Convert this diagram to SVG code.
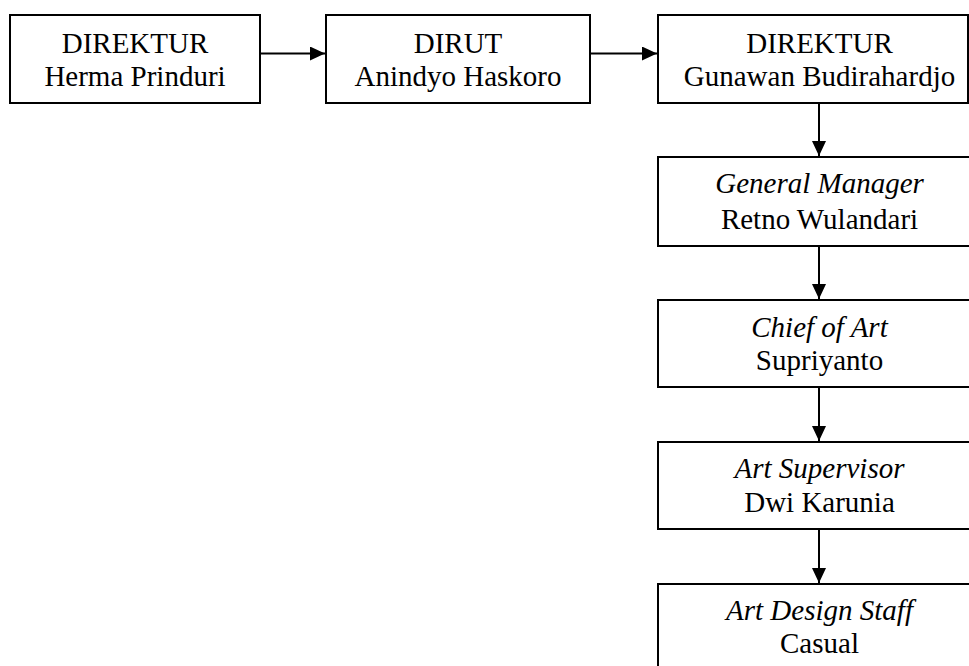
<svg xmlns="http://www.w3.org/2000/svg" width="969" height="666" viewBox="0 0 969 666">
<style>
.box{fill:#fff;stroke:#000;stroke-width:2}
.t{font-family:"Liberation Serif","Times New Roman",serif;font-size:29px;fill:#000;text-anchor:middle}
.i{font-style:italic}
.c{stroke:#000;stroke-width:2;fill:none;marker-end:url(#ah)}
</style>
<defs>
<marker id="ah" viewBox="0 0 15 14" refX="15" refY="7" markerWidth="15" markerHeight="14" markerUnits="userSpaceOnUse" orient="auto">
<path d="M0,0 L15,7 L0,14 z" fill="#000"/>
</marker>
</defs>
<rect width="969" height="666" fill="#fff"/>
<g id="connectors">
<line class="c" x1="261" y1="53.5" x2="325" y2="53.5"/>
<line class="c" x1="591" y1="53.5" x2="657" y2="53.5"/>
<line class="c" x1="819" y1="104" x2="819" y2="156"/>
<line class="c" x1="819" y1="247" x2="819" y2="299"/>
<line class="c" x1="819" y1="388" x2="819" y2="441"/>
<line class="c" x1="819" y1="530" x2="819" y2="583"/>
</g>
<g id="n1">
<rect class="box" x="10" y="15" width="250" height="88"/>
<text class="t" x="135" y="53">DIREKTUR</text>
<text class="t" x="135" y="86">Herma Prinduri</text>
</g>
<g id="n2">
<rect class="box" x="326" y="15" width="264" height="88"/>
<text class="t" x="458" y="53">DIRUT</text>
<text class="t" x="458" y="86">Anindyo Haskoro</text>
</g>
<g id="n3">
<rect class="box" x="658" y="15" width="310" height="88"/>
<text class="t" x="819.5" y="53">DIREKTUR</text>
<text class="t" x="819.5" y="86">Gunawan Budirahardjo</text>
</g>
<g id="n4">
<rect class="box" x="658" y="157" width="323" height="89"/>
<text class="t i" x="819.5" y="193">General Manager</text>
<text class="t" x="819.5" y="229">Retno Wulandari</text>
</g>
<g id="n5">
<rect class="box" x="658" y="300" width="323" height="87"/>
<text class="t i" x="819.5" y="337">Chief of Art</text>
<text class="t" x="819.5" y="370">Supriyanto</text>
</g>
<g id="n6">
<rect class="box" x="658" y="442" width="323" height="87"/>
<text class="t i" x="819.5" y="478">Art Supervisor</text>
<text class="t" x="819.5" y="512">Dwi Karunia</text>
</g>
<g id="n7">
<rect class="box" x="658" y="584" width="323" height="88"/>
<text class="t i" x="819.5" y="620">Art Design Staff</text>
<text class="t" x="819.5" y="653">Casual</text>
</g>
</svg>
